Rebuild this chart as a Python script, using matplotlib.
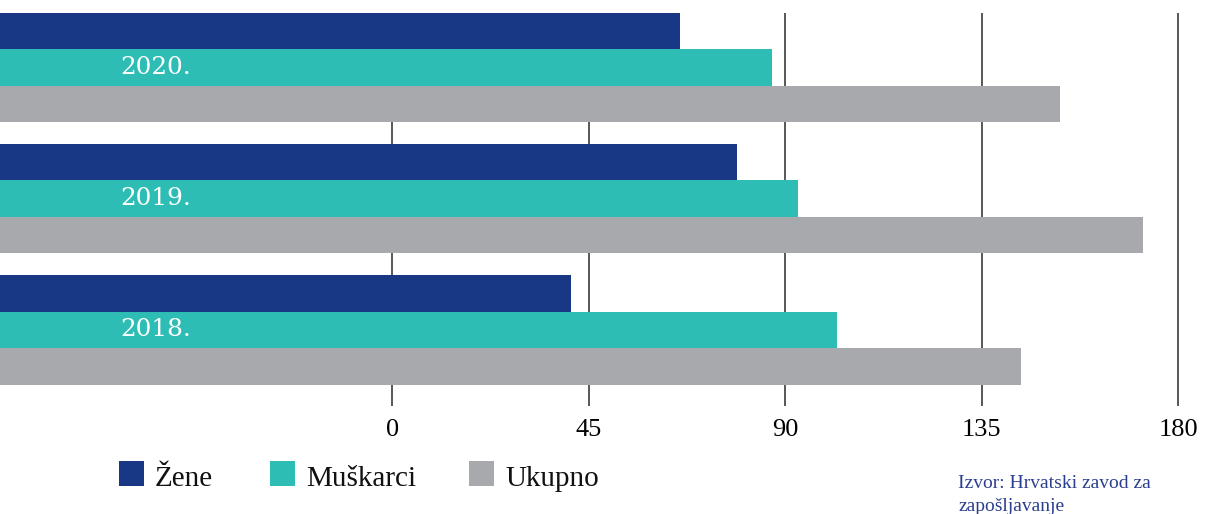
import matplotlib
matplotlib.use("Agg")
import matplotlib.pyplot as plt
from matplotlib.patches import Rectangle
import numpy as np

# ---- data ----
years = ["2018.", "2019.", "2020."]
series_names = ["Žene", "Muškarci", "Ukupno"]
zene = [41, 79, 66]
muskarci = [102, 93, 87]
ukupno = [144, 172, 153]
tick_values = [0, 45, 90, 135, 180]
source_text = "Izvor: Hrvatski zavod za\nzapošljavanje"

colors = ["#183785", "#2ebdb5", "#a8a9ad"]
serif = ["Liberation Serif", "DejaVu Serif"]
serif2 = ["DejaVu Serif"]

W, H = 1206, 514
fig = plt.figure(figsize=(W / 100, H / 100), dpi=100)
ax = fig.add_axes([0, (H - 406) / H, 1, 393 / H])

xmin, xmax = -89.8, 186.4
ax.set_xlim(xmin, xmax)
h = 0.278
ax.set_ylim(-0.579, 2.415)

pos = np.arange(len(years))
for vals, off, c in zip([zene, muskarci, ukupno], [h, 0, -h], colors):
    v = np.array(vals, dtype=float)
    ax.barh(pos + off, v - xmin, left=xmin, height=h, color=c, zorder=2, linewidth=0)

for p, y in zip(pos, years):
    ax.text(-62.3, p, y, color="white", fontsize=17.8, family=serif2,
            ha="left", va="center", zorder=3)

ax.set_xticks(tick_values)
ax.set_xticklabels([str(t) for t in tick_values], family=serif, fontsize=19)
ax.tick_params(axis="x", length=0, pad=9.5)
ax.set_yticks([])
ax.grid(axis="x", color="#4a4a4a", linewidth=1.3, zorder=0)
ax.set_axisbelow(True)
for s in ax.spines.values():
    s.set_visible(False)

# legend (manual, in figure pixel coords)
sq_x = [119, 270, 469]
for name, c, x in zip(series_names, colors, sq_x):
    fig.add_artist(Rectangle((x / W, (H - 486) / H), 25 / W, 25 / H,
                             transform=fig.transFigure, color=c, linewidth=0))
    fig.text((x + 36) / W, (H - 486) / H, name, family=serif, fontsize=21,
             ha="left", va="baseline", color="#111111")

fig.text(958 / W, (H - 511) / H, source_text, family=serif, fontsize=14,
         color="#2a3f8f", ha="left", va="baseline", linespacing=1.45)

fig.savefig("out.png", dpi=100)
